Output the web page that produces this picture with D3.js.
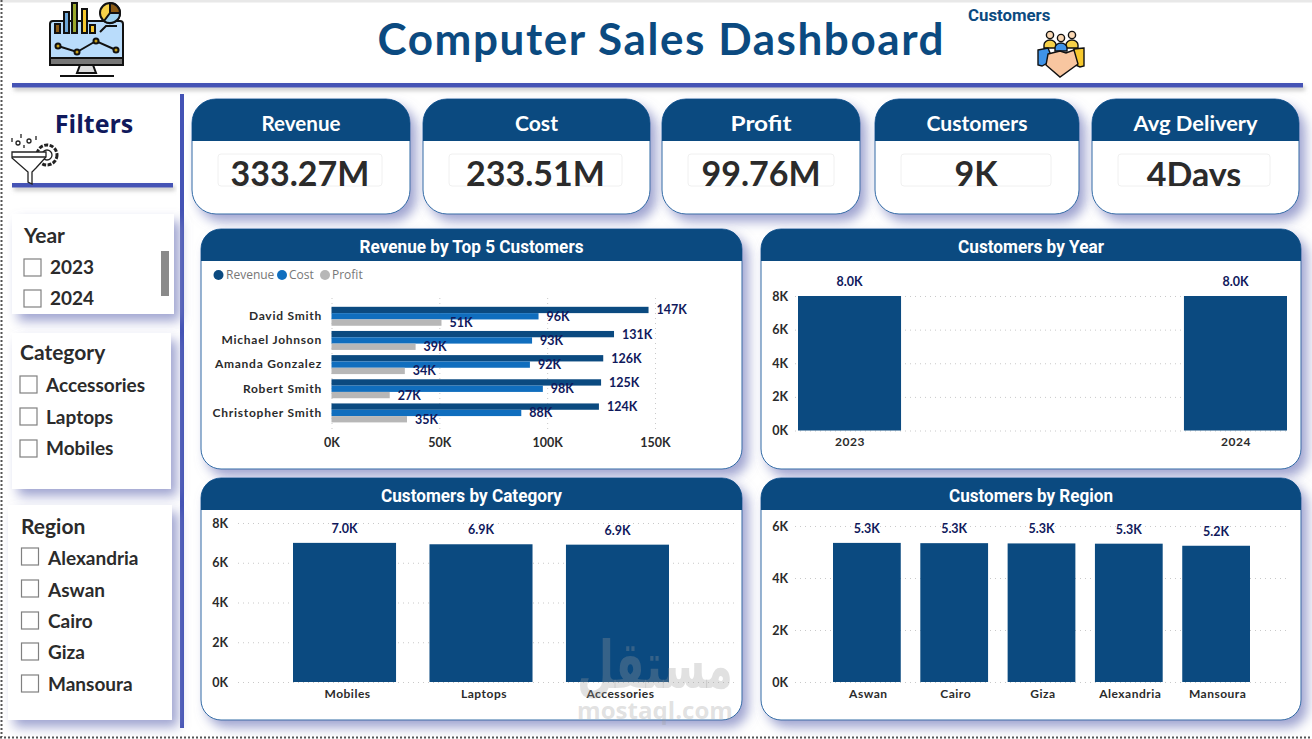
<!DOCTYPE html>
<html><head><meta charset="utf-8">
<style>html,body{margin:0;padding:0;background:#fff;overflow:hidden}svg{display:block}
.comic{font-family:"Comic Sans MS","Lato","Open Sans",sans-serif;font-weight:700}
.din{font-family:"Roboto","Open Sans",sans-serif;font-weight:700}
.tick line{stroke:#c9c9c9;stroke-dasharray:1 4}
.domain{display:none}
</style>
<script src="https://cdnjs.cloudflare.com/ajax/libs/d3/7.8.5/d3.min.js"></script></head><body>
<svg id="c" width="1312" height="739"></svg>
<script>
const customers=["David Smith","Michael Johnson","Amanda Gonzalez","Robert Smith","Christopher Smith"];
const revenue=[147,131,126,125,124], cost=[96,93,92,98,88], profit=[51,39,34,27,35];
const years=["2023","2024"], yearValues=[8.0,8.0];
const categories=["Mobiles","Laptops","Accessories"], categoryValues=[7.0,6.93,6.91];
const regions=["Aswan","Cairo","Giza","Alexandria","Mansoura"], regionValues=[5.35,5.34,5.33,5.32,5.24];
const regionLabels=["5.3K","5.3K","5.3K","5.3K","5.2K"], categoryLabels=["7.0K","6.9K","6.9K"], yearLabels=["8.0K","8.0K"];
const kpiNames=["Revenue","Cost","Profit","Customers","Avg Delivery"];
const kpiValues=["333.27M","233.51M","99.76M","9K","4Days"];
const filterYear=["2023","2024"], filterCategory=["Accessories","Laptops","Mobiles"], filterRegion=["Alexandria","Aswan","Cairo","Giza","Mansoura"];

const NAVY="#0b4a80",BLUE="#106ebe",GREY="#b7b7b7",LINE="#4453b5",INK="#10195c",TXT="#2b2b2b";
const svg=d3.select("#c");
const defs=svg.append("defs");
const f=defs.append("filter").attr("id","sh").attr("x","-10%").attr("y","-10%").attr("width","125%").attr("height","130%");
f.append("feDropShadow").attr("dx",6).attr("dy",7).attr("stdDeviation",6).attr("flood-color","#868cc4").attr("flood-opacity",.8);
const f2=defs.append("filter").attr("id","ls").attr("x","-2%").attr("y","-100%").attr("width","104%").attr("height","400%");
f2.append("feDropShadow").attr("dx",2).attr("dy",3).attr("stdDeviation",2).attr("flood-color","#888").attr("flood-opacity",.5);

// page frame
svg.append("rect").attr("x",0).attr("y",0).attr("width",1312).attr("height",2.5).attr("fill","#e8e8e8");
svg.append("line").attr("x1",1.5).attr("x2",1.5).attr("y1",0).attr("y2",737).attr("stroke","#555").attr("stroke-width",2).attr("stroke-dasharray","2 2");
svg.append("line").attr("x1",0).attr("x2",1312).attr("y1",737.5).attr("y2",737.5).attr("stroke","#555").attr("stroke-width",2).attr("stroke-dasharray","2 2");

// rules
const rule=(x,y,w,h)=>svg.append("rect").attr("x",x).attr("y",y).attr("width",w).attr("height",h).attr("fill",LINE).attr("filter","url(#ls)");
rule(12,83,1291,4.5); rule(12,183,161,4.5); 
svg.append("rect").attr("x",180).attr("y",94).attr("width",4).attr("height",634).attr("fill",LINE);

// title
svg.append("text").attr("class","comic").attr("x",660.5).attr("y",55).attr("text-anchor","middle").attr("font-size",44)
 .attr("fill",NAVY).attr("textLength",566).attr("lengthAdjust","spacing").text("Computer Sales Dashboard");
svg.append("text").attr("class","din").attr("x",968).attr("y",21).attr("font-size",16.8).attr("fill",NAVY).text("Customers");
svg.append("text").attr("x",94).attr("y",133).attr("text-anchor","middle").attr("font-family","Open Sans").attr("font-weight",700).attr("font-size",25).attr("fill",INK).text("Filters");

// card helper
function card(x,y,w,h,hh,r,title,cls,size,tw,dy){
  const g=svg.append("g");
  g.append("rect").attr("x",x).attr("y",y).attr("width",w).attr("height",h).attr("rx",r).attr("fill","#fff").attr("stroke","#2f6aa5").attr("stroke-width",1).attr("filter","url(#sh)");
  g.append("path").attr("d",`M${x},${y+hh}V${y+r}A${r},${r} 0 0 1 ${x+r},${y}H${x+w-r}A${r},${r} 0 0 1 ${x+w},${y+r}V${y+hh}Z`).attr("fill",NAVY);
  const t=g.append("text").attr("class",cls).attr("x",x+w/2).attr("y",y+hh/2+size*.35+dy).attr("text-anchor","middle").attr("font-size",size).attr("fill","#fff").text(title);
  if(tw) t.attr("textLength",tw).attr("lengthAdjust","spacingAndGlyphs");
}
// KPI cards
const kpiX=[192,423,662,875,1092],kpiW=[218,227,198,204,207],boxX=[218,449,688,901,1118],boxW=[164,173,146,150,152],kpiTW=[79,43,61,101,124];
kpiNames.forEach((n,i)=>{
  card(kpiX[i],99,kpiW[i],115,42,24,n,"comic",21,kpiTW[i],3.5);
  svg.append("rect").attr("x",boxX[i]).attr("y",154).attr("width",boxW[i]).attr("height",32).attr("rx",3).attr("fill","#fff").attr("stroke","#f0f0f0");
  defs.append("clipPath").attr("id","kc"+i).append("rect").attr("x",boxX[i]).attr("y",154).attr("width",boxW[i]).attr("height",32);
  svg.append("g").attr("clip-path",`url(#kc${i})`).append("text").attr("class","comic").attr("x",boxX[i]+boxW[i]/2).attr("y",i==4?187:186).attr("text-anchor","middle").attr("font-size",34).attr("fill",TXT).text(kpiValues[i]);
});

// Filters
function panel(x,y,w,h){svg.append("rect").attr("x",x).attr("y",y).attr("width",w).attr("height",h).attr("fill","#fff").attr("filter","url(#sh)");}
function slicer(title,tx,ty,items,bx,bys,lx,lys){
  svg.append("text").attr("class","comic").attr("x",tx).attr("y",ty).attr("font-size",21).attr("fill",TXT).text(title);
  items.forEach((d,i)=>{
    svg.append("rect").attr("x",bx).attr("y",bys[i]).attr("width",17).attr("height",17).attr("fill","#fff").attr("stroke","#808080").attr("stroke-width",1.2);
    svg.append("text").attr("class","comic").attr("x",lx).attr("y",lys[i]).attr("font-size",19).attr("fill",TXT).text(d);
  });
}
panel(12,214,162,100); panel(12,333,159,156); panel(8,505,164,215);
slicer("Year",24,243,filterYear,24,[259,290],50,[274,305]);
svg.append("rect").attr("x",161).attr("y",251).attr("width",8).attr("height",45).attr("fill","#8a8a8a");
slicer("Category",20,360,filterCategory,20,[376,408,440],46,[392,424,455]);
slicer("Region",21,534,filterRegion,21.5,[548,580,612,643,675],48,[565,597,628,659,691]);

// chart cards
card(201,229,541,240,32,20,"Revenue by Top 5 Customers","din",17.5,224,1.5);
card(761,229,540,240,32,20,"Customers by Year","din",17.5,146,1.5);
card(201,478,541,242,32,20,"Customers by Category","din",17.5,181,1.5);
card(761,478,540,242,32,20,"Customers by Region","din",17.5,164,1.5);

// Revenue by top 5
const x0=d3.scaleLinear().domain([0,150]).range([331.5,655]);
const y0=d3.scaleBand().domain(customers).range([303.9,425.3]).paddingInner(.215).paddingOuter(.12);
const y1=d3.scaleBand().domain(["r","c","p"]).range([0,y0.bandwidth()]);
svg.append("g").attr("transform","translate(0,429)").call(d3.axisBottom(x0).tickValues([0,50,100,150]).tickSize(-131).tickFormat(d=>d+"K"))
 .call(g=>g.selectAll("text").attr("class","comic").attr("font-size",12.5).attr("fill",TXT).attr("y",9));
svg.append("g").attr("transform","translate(331,0)").call(d3.axisLeft(y0).tickSize(0).tickPadding(9))
 .call(g=>g.selectAll("text").attr("class","comic").attr("font-size",12).attr("letter-spacing",.75).attr("fill",TXT));
[["r",revenue,NAVY],["c",cost,BLUE],["p",profit,GREY]].forEach(([k,vals,col])=>{
  const g=svg.append("g");
  g.selectAll("rect").data(vals).join("rect").attr("x",x0(0)).attr("y",(d,i)=>y0(customers[i])+y1(k)).attr("width",d=>x0(d)-x0(0)).attr("height",y1.bandwidth()).attr("fill",col);
  g.selectAll("text").data(vals).join("text").attr("class","comic").attr("x",d=>x0(d)+8).attr("y",(d,i)=>y0(customers[i])+y1(k)+y1.bandwidth()/2+4.5).attr("font-size",12.5).attr("fill",INK).text(d=>d+"K");
});
const legendNames=["Revenue","Cost","Profit"],legendCols=[NAVY,BLUE,GREY],legendDot=[218.5,282,325],legendTxt=[226,289,332];
legendNames.forEach((n,i)=>{
  svg.append("circle").attr("cx",legendDot[i]).attr("cy",275).attr("r",5).attr("fill",legendCols[i]);
  svg.append("text").attr("x",legendTxt[i]).attr("y",279).attr("font-family","Open Sans").attr("font-size",12).attr("fill","#777").text(n);
});

// column chart helper
function cols(cats,vals,labels,ys,yTicks,xr,padI,gx0,gx1,tickX,xLabelY,labelDx){
  const x=d3.scaleBand().domain(cats).range(xr).paddingInner(padI).paddingOuter(0);
  const yAxis=svg.append("g").attr("transform",`translate(${gx0},0)`).call(d3.axisLeft(ys).tickValues(yTicks).tickSize(-(gx1-gx0)).tickPadding(gx0-tickX).tickFormat(d=>d+"K"));
  yAxis.selectAll("text").attr("class","comic").attr("font-size",12.5).attr("fill",TXT);
  const xa=svg.append("g").attr("transform",`translate(${labelDx},${xLabelY})`).call(d3.axisBottom(x).tickSize(0));
  xa.selectAll("text").attr("class","comic").attr("font-size",12).attr("letter-spacing",.5).attr("fill",TXT).attr("y",0).attr("dy","0.35em");
  svg.append("g").selectAll("rect").data(vals).join("rect").attr("x",(d,i)=>x(cats[i])).attr("y",d=>ys(d)).attr("width",x.bandwidth()).attr("height",d=>ys(0)-ys(d)).attr("fill",NAVY);
  svg.append("g").selectAll("text").data(vals).join("text").attr("class","comic").attr("x",(d,i)=>x(cats[i])+x.bandwidth()/2).attr("y",d=>ys(d)-10).attr("text-anchor","middle").attr("font-size",12.5).attr("fill",INK).text((d,i)=>labels[i]);
}
cols(years,yearValues,yearLabels,d3.scaleLinear().domain([0,8]).range([430.5,296]),[0,2,4,6,8],[798,1287],.733,795,1290,788,442,.5);
cols(categories,categoryValues,categoryLabels,d3.scaleLinear().domain([0,8]).range([682,523]),[0,2,4,6,8],[293,669],.245,238,735,228,694,3);
cols(regions,regionValues,regionLabels,d3.scaleLinear().domain([0,6]).range([682,526]),[0,2,4,6],[833,1250],.224,795,1290,788,694,1.5);

// monitor icon
const ic=svg.append("g").attr("stroke","#111").attr("stroke-width",2);
ic.append("rect").attr("x",50).attr("y",21).attr("width",73).attr("height",44).attr("rx",3).attr("fill","#b9dcfb");
ic.append("rect").attr("x",50).attr("y",58).attr("width",73).attr("height",7).attr("fill","#777");
ic.append("path").attr("d","M80,65h13l3,8h-19zM60,76h54").attr("fill","#ddd");
const iconBars=[[55,24,"#8b5a14"],[64,12,"#6da7d8"],[72,3,"#9aa82c"],[82,9,"#f7c92e"],[90,25,"#f7c92e"]];
iconBars.forEach(b=>ic.append("rect").attr("x",b[0]).attr("y",b[1]).attr("width",5).attr("height",33-b[1]).attr("fill",b[2]));
ic.append("path").attr("d","M58,46L77,52L96,41L116,50").attr("fill","none");
[[58,46],[77,52],[96,41],[116,50]].forEach(p=>ic.append("circle").attr("cx",p[0]).attr("cy",p[1]).attr("r",2.5).attr("fill","#c9a11a"));
ic.append("circle").attr("cx",110).attr("cy",13).attr("r",10).attr("fill","#f7d148");
ic.append("path").attr("d","M110,13V3A10,10 0 0 1 120,13Z").attr("fill","#8b5a14");
ic.append("path").attr("d","M110,13H120A10,10 0 0 1 104,21Z").attr("fill","#9fd3f2");
ic.append("path").attr("d","M100,32l6,-6h11").attr("fill","none");

// funnel icon
const fu=svg.append("g").attr("fill","#fff").attr("stroke","#222").attr("stroke-width",1.3);
fu.append("circle").attr("cx",47).attr("cy",155).attr("r",10).attr("stroke-dasharray","4 1.5").attr("stroke-width",3);
fu.append("circle").attr("cx",47).attr("cy",155).attr("r",5);
fu.append("path").attr("d","M12,152H46V157L36,168L32,172V184L28,182V172L12,158Z");
fu.append("line").attr("x1",12).attr("x2",46).attr("y1",157).attr("y2",157);
[[18,143],[29,141]].forEach(p=>fu.append("circle").attr("cx",p[0]).attr("cy",p[1]).attr("r",2));
[[12,138,12,142],[21,134,21,138],[36,136,36,140],[24,145,24,148]].forEach(l=>fu.append("line").attr("x1",l[0]).attr("y1",l[1]).attr("x2",l[2]).attr("y2",l[3]));

// customers icon
const cu=svg.append("g").attr("stroke","#111").attr("stroke-width",1.4);
[[1050,35,"#f7d148"],[1072,35,"#f7d148"],[1061,38,"#3f93e8"]].forEach(p=>{
  cu.append("path").attr("d",`M${p[0]-6},${p[1]+13}v-3a6,5 0 0 1 12,0v3z`).attr("fill",p[2]);
  cu.append("circle").attr("cx",p[0]).attr("cy",p[1]).attr("r",3.6).attr("fill","#fbd9b5");
});
cu.append("path").attr("d","M1038,50l10,-2l5,12l-11,6l-4,-1z").attr("fill","#3f93e8");
cu.append("path").attr("d","M1084,48l-10,1l-3,14l9,4l4,-1z").attr("fill","#f7c92e");
cu.append("path").attr("d","M1048,54l12,-3l6,2l8,-3l4,14l-18,13l-14,-12z").attr("fill","#f8c6a0");

// watermark
const wm=svg.append("g").attr("pointer-events","none").attr("text-anchor","middle").attr("fill","#9a9a9a").attr("fill-opacity",.3);
wm.append("text").attr("x",655).attr("y",688).attr("font-family","DejaVu Sans").attr("font-weight",700).attr("font-size",66).attr("textLength",156).attr("lengthAdjust","spacingAndGlyphs").text("مستقل");
wm.append("text").attr("x",655).attr("y",719).attr("font-family","Open Sans").attr("font-weight",700).attr("font-size",24).attr("textLength",156).attr("lengthAdjust","spacingAndGlyphs").text("mostaql.com");
</script></body></html>
